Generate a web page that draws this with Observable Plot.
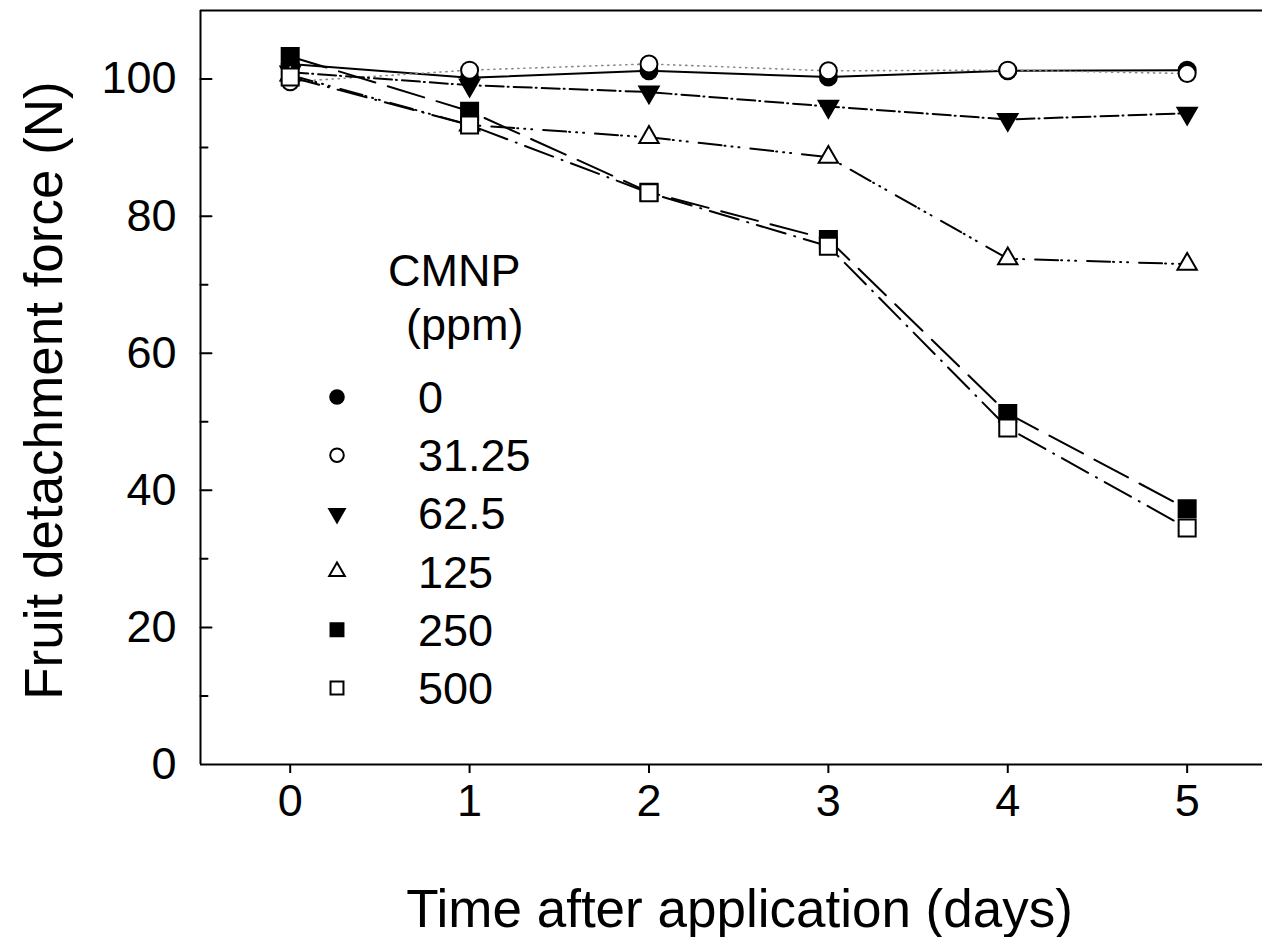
<!DOCTYPE html>
<html>
<head>
<meta charset="utf-8">
<script src="https://cdn.jsdelivr.net/npm/d3@7"></script>
<script src="https://cdn.jsdelivr.net/npm/@observablehq/plot@0.6"></script>
<style>
  html, body { margin: 0; padding: 0; background: white; }
  #wrap { position: relative; width: 1262px; height: 937px; overflow: hidden; }
  #legend { position: absolute; left: 0; top: 0; pointer-events: none; }
</style>
</head>
<body>
<div id="wrap"></div>
<script>
const days = [0, 1, 2, 3, 4, 5];
const concentrations = ["0", "31.25", "62.5", "125", "250", "500"];
const force0    = [102.2, 100.2, 101.2, 100.3, 101.2, 101.3];
const force31   = [99.6, 101.3, 102.2, 101.2, 101.3, 100.8];
const force62   = [101.0, 99.1, 98.1, 96.0, 94.1, 95.0];
const force125  = [100.6, 93.3, 91.5, 88.6, 73.8, 73.0];
const force250  = [103.3, 95.3, 83.5, 76.6, 51.2, 37.3];
const force500  = [100.3, 93.3, 83.4, 75.6, 49.1, 34.5];
const yTickLabels = [0, 20, 40, 60, 80, 100];
const yMinorTicks = [10, 30, 50, 70, 90];
const xTickLabels = [0, 1, 2, 3, 4, 5];

const seriesValues = [force0, force31, force62, force125, force250, force500];

const triangleDown = {
  draw(ctx, size) {
    const y = Math.sqrt(size / (3 * Math.sqrt(3)));
    ctx.moveTo(0, 2 * y);
    ctx.lineTo(-Math.sqrt(3) * y, -y);
    ctx.lineTo(Math.sqrt(3) * y, -y);
    ctx.closePath();
  }
};

// plain line segment shape for the inward y ticks
const tickShape = {
  draw(ctx, l) {
    ctx.moveTo(0, 0);
    ctx.lineTo(0, -l);
  }
};

const styles = [
  {symbol: "circle",     r: 8.5, fill: "black", dash: null,                      stroke: "black", sw: 2,   lr: 6.8},
  {symbol: "circle",     r: 8.5, fill: "white", dash: "1.2,4.8",                 stroke: "#888",  sw: 1.6, lr: 6.8},
  {symbol: triangleDown, r: 7.2, fill: "black", dash: "18,4,1,5",                stroke: "black", sw: 2,   lr: 5.8},
  {symbol: "triangle",   r: 7.2, fill: "white", dash: "23,3,1,6,1,6,1,11",       stroke: "black", sw: 2,   lr: 5.8},
  {symbol: "square",     r: 9.6, fill: "black", dash: "38,13",                   stroke: "black", sw: 2,   lr: 7.3},
  {symbol: "square",     r: 9.6, fill: "white", dash: "30,9,1,9",                stroke: "black", sw: 2,   lr: 7.3}
];

const table = concentrations.map((c, i) => days.map((d, j) => ({conc: c, day: d, force: seriesValues[i][j]})));

const font = "'Liberation Sans', Arial, sans-serif";

const marks = [
  Plot.ruleY([0], {strokeWidth: 2}),
  Plot.ruleY([110], {strokeWidth: 2}),
  Plot.ruleX([-0.5], {strokeWidth: 2}),
  Plot.axisX({ticks: xTickLabels, tickSize: 9, tickPadding: 11, strokeWidth: 2, tickFormat: d => String(d), label: null, fontSize: 45}),
  Plot.axisY({ticks: yTickLabels, tickSize: 0, tickPadding: 24, tickFormat: d => String(d), label: null, fontSize: 45}),
  Plot.vector(yTickLabels.filter(d => d > 0), {y: d => d, frameAnchor: "left", length: 11, rotate: 90, anchor: "start", shape: tickShape, strokeWidth: 2}),
  Plot.vector(yMinorTicks, {y: d => d, frameAnchor: "left", length: 7, rotate: 90, anchor: "start", shape: tickShape, strokeWidth: 2}),
];

table.forEach((rows, i) => {
  const s = styles[i];
  marks.push(Plot.line(rows, {x: "day", y: "force", stroke: s.stroke, strokeWidth: s.sw, strokeDasharray: s.dash}));
});
table.forEach((rows, i) => {
  const s = styles[i];
  marks.push(Plot.dot(rows, {x: "day", y: "force", symbol: s.symbol, r: s.r, fill: s.fill, stroke: "black", strokeWidth: 2}));
});

marks.push(Plot.text(["Time after application (days)"], {frameAnchor: "bottom", textAnchor: "middle", dx: 8, dy: 146, fontSize: 53, lineAnchor: "middle"}));
marks.push(Plot.text(["Fruit detachment force (N)"], {frameAnchor: "left", textAnchor: "middle", dx: -155, dy: 3, rotate: -90, fontSize: 53, lineAnchor: "middle"}));

const chart = Plot.plot({
  width: 1262,
  height: 937,
  marginLeft: 200,
  marginRight: 0,
  marginTop: 10,
  marginBottom: 173,
  x: {domain: [-0.5, 5.42]},
  y: {domain: [0, 110]},
  style: {fontFamily: font, fontSize: "45px", background: "white", color: "black", overflow: "visible"},
  marks
});

const wrap = document.getElementById("wrap");
wrap.appendChild(chart);

// Legend overlay
const legendTitle = ["CMNP", "(ppm)"];
const leg = d3.select(wrap).append("svg")
  .attr("id", "legend")
  .attr("width", 1262).attr("height", 937)
  .style("font-family", font);

leg.append("text").attr("x", 388).attr("y", 286).attr("font-size", 45).text(legendTitle[0]);
leg.append("text").attr("x", 406).attr("y", 340).attr("font-size", 45).text(legendTitle[1]);

concentrations.forEach((c, i) => {
  const s = styles[i];
  const cy = 397 + 58.2 * i;
  const sym = typeof s.symbol === "string"
    ? ({circle: d3.symbolCircle, triangle: d3.symbolTriangle, square: d3.symbolSquare})[s.symbol]
    : s.symbol;
  leg.append("path")
    .attr("transform", `translate(337,${cy})`)
    .attr("d", d3.symbol(sym, s.lr * s.lr * Math.PI)())
    .attr("fill", s.fill)
    .attr("stroke", "black")
    .attr("stroke-width", 2);
  leg.append("text").attr("x", 418).attr("y", cy + 16).attr("font-size", 45).text(c);
});
</script>
</body>
</html>
